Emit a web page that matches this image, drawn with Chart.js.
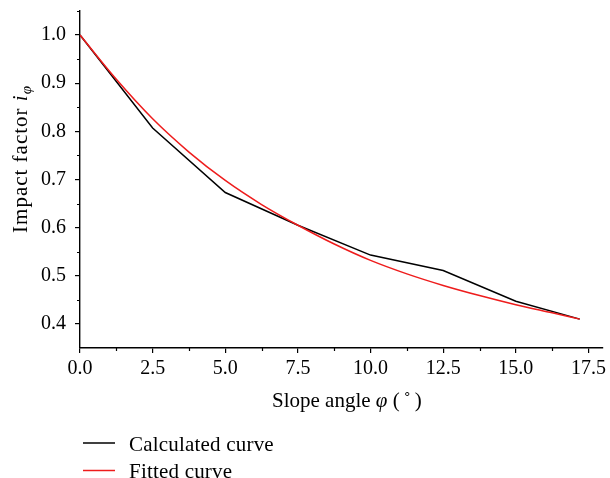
<!DOCTYPE html>
<html>
<head>
<meta charset="utf-8">
<script src="https://cdn.jsdelivr.net/npm/chart.js@4/dist/chart.umd.min.js"></script>
<style>
  html, body { margin: 0; padding: 0; background: #fff; }
  #wrap { width: 610px; height: 478px; position: relative; }
</style>
</head>
<body>
<div id="wrap"><canvas id="c" width="610" height="478"></canvas></div>
<script>
// ---- data ----
const calcAngles = [0, 2.5, 5, 7.5, 10, 12.5, 15, 17.2];
const calcValues = [1.0, 0.807, 0.673, 0.605, 0.543, 0.511, 0.447, 0.410];
const fitAngles  = [0, 1.25, 2.5, 3.75, 5, 6.25, 7.5, 8.75, 10, 11.25, 12.5, 13.75, 15, 16.25, 17.2];
const fitValues  = [1.0, 0.908, 0.826, 0.757, 0.698, 0.648, 0.605, 0.566, 0.532, 0.504, 0.480, 0.459, 0.440, 0.423, 0.410];
const xTicks = [0, 2.5, 5, 7.5, 10, 12.5, 15, 17.5];
const yTicks = [0.4, 0.5, 0.6, 0.7, 0.8, 0.9, 1.0];
const xMinor = [1.25, 3.75, 6.25, 8.75, 11.25, 13.75, 16.25];
const yMinor = [0.45, 0.55, 0.65, 0.75, 0.85, 0.95, 1.05];
const seriesNames = ['Calculated curve', 'Fitted curve'];

const FONT = '"Liberation Serif", "DejaVu Serif", serif';
const FS = 20;
const TFS = 21;

const toPts = (xs, ys) => xs.map((x, i) => ({ x: x, y: ys[i] }));

const decor = {
  id: 'decor',
  afterDraw(chart) {
    const ctx = chart.ctx;
    const xs = chart.scales.x, ys = chart.scales.y;
    const area = chart.chartArea;
    ctx.save();
    ctx.strokeStyle = '#000';
    ctx.lineWidth = 1.2;
    // minor ticks
    ctx.beginPath();
    xMinor.forEach(v => {
      const px = Math.round(xs.getPixelForValue(v)) + 0.5;
      ctx.moveTo(px, area.bottom); ctx.lineTo(px, area.bottom + 3);
    });
    yMinor.forEach(v => {
      const py = Math.round(ys.getPixelForValue(v)) + 0.5;
      ctx.moveTo(area.left, py); ctx.lineTo(area.left - 3, py);
    });
    ctx.stroke();

    ctx.fillStyle = '#000';
    ctx.textBaseline = 'alphabetic';
    // x title
    let x = 272, y = 407;
    const segs = [
      ['Slope angle ', TFS + 'px ' + FONT, 0, 0],
      ['\u03C6', 'italic ' + TFS + 'px ' + FONT, 0, 0],
      [' (', TFS + 'px ' + FONT, 0, 4],
      ['\u02DA', TFS + 'px ' + FONT, 0, 4],
      [')', TFS + 'px ' + FONT, 0, 0]
    ];
    segs.forEach(s => {
      ctx.font = s[1];
      ctx.fillText(s[0], x, y + s[2]);
      x += ctx.measureText(s[0]).width + s[3];
    });

    // y title (rotated)
    ctx.save();
    ctx.translate(20, 159);
    ctx.rotate(-Math.PI / 2);
    if ('letterSpacing' in ctx) ctx.letterSpacing = '1px';
    const ysegs = [
      ['Impact factor ', TFS + 'px ' + FONT, 0],
      ['i', 'italic ' + TFS + 'px ' + FONT, 0],
      ['\u03C6', 'italic ' + Math.round(TFS * 0.7) + 'px ' + FONT, 4]
    ];
    let tw = 0;
    ysegs.forEach(s => { ctx.font = s[1]; tw += ctx.measureText(s[0]).width; });
    let u = -tw / 2;
    ysegs.forEach(s => {
      ctx.font = s[1];
      ctx.fillText(s[0], u, 7 + s[2]);
      u += ctx.measureText(s[0]).width;
    });
    ctx.restore();

    // legend
    const ds = chart.data.datasets;
    const rows = [443, 470.5];
    if ('letterSpacing' in ctx) ctx.letterSpacing = '0.2px';
    ds.forEach((d, i) => {
      const ly = rows[i];
      ctx.strokeStyle = d.borderColor;
      ctx.lineWidth = 1.5;
      ctx.beginPath();
      ctx.moveTo(83, ly); ctx.lineTo(115, ly);
      ctx.stroke();
      ctx.font = TFS + 'px ' + FONT;
      ctx.fillStyle = '#000';
      ctx.fillText(d.label, 129, ly + 7.5);
    });
    ctx.restore();
  }
};

new Chart(document.getElementById('c'), {
  type: 'line',
  data: {
    datasets: [
      {
        label: seriesNames[0],
        data: toPts(calcAngles, calcValues),
        borderColor: '#000000',
        borderWidth: 1.5,
        pointRadius: 0,
        tension: 0,
        order: 1
      },
      {
        label: seriesNames[1],
        data: toPts(fitAngles, fitValues),
        borderColor: '#ee1c1c',
        borderWidth: 1.5,
        pointRadius: 0,
        cubicInterpolationMode: 'monotone',
        order: 0
      }
    ]
  },
  options: {
    responsive: false,
    animation: false,
    devicePixelRatio: 1,
    layout: { padding: { left: 0, right: 7, top: 11, bottom: 0 } },
    plugins: { legend: { display: false }, tooltip: { enabled: false }, title: { display: false } },
    scales: {
      x: {
        type: 'linear', min: 0, max: 18,
        afterBuildTicks: s => { s.ticks = xTicks.map(v => ({ value: v })); },
        afterFit: s => { s.height = 130; s.paddingLeft = 0; s.paddingRight = 0; },
        ticks: {
          color: '#000', font: { family: FONT, size: FS }, padding: 4,
          maxRotation: 0, autoSkip: false,
          callback: v => Number(v).toFixed(1)
        },
        grid: { display: true, drawOnChartArea: false, drawTicks: true, tickLength: 5, color: '#000', lineWidth: 1.2 },
        border: { display: true, color: '#000', width: 1.4 }
      },
      y: {
        type: 'linear', min: 0.35, max: 1.05,
        afterBuildTicks: s => { s.ticks = yTicks.map(v => ({ value: v })); },
        afterFit: s => { s.width = 80; s.paddingTop = 0; s.paddingBottom = 0; },
        ticks: {
          color: '#000', font: { family: FONT, size: FS }, padding: 9,
          autoSkip: false,
          callback: v => Number(v).toFixed(1)
        },
        grid: { display: true, drawOnChartArea: false, drawTicks: true, tickLength: 5, color: '#000', lineWidth: 1.2 },
        border: { display: true, color: '#000', width: 1.4 }
      }
    }
  },
  plugins: [decor]
});
</script>
</body>
</html>
